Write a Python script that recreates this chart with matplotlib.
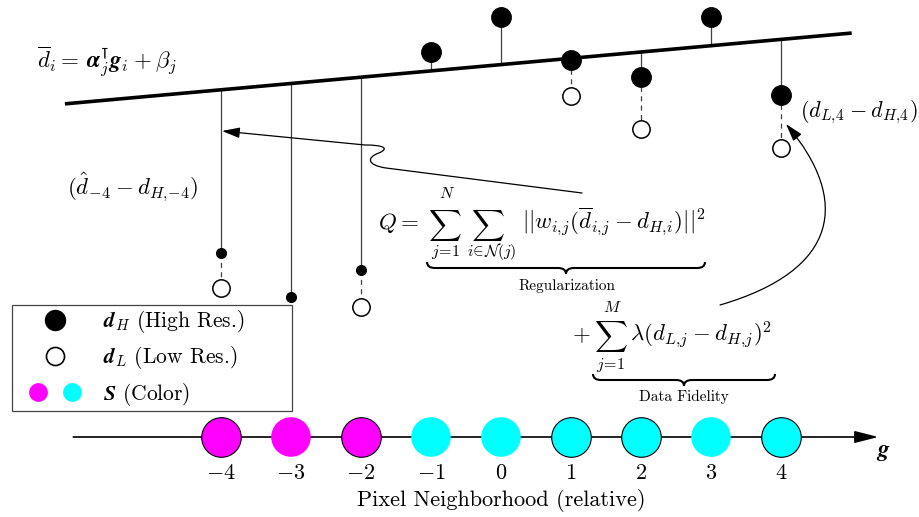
import numpy as np
import matplotlib
matplotlib.use("Agg")
import matplotlib.pyplot as plt
from matplotlib.path import Path
from matplotlib.patches import FancyArrowPatch, PathPatch
from matplotlib.lines import Line2D
from matplotlib.legend_handler import HandlerTuple

plt.rcParams['mathtext.fontset'] = 'cm'
plt.rcParams['font.family'] = 'serif'
plt.rcParams['font.serif'] = ['cmr10', 'DejaVu Serif']
plt.rcParams['axes.unicode_minus'] = False

# ---------------- data ----------------
g = [-4, -3, -2, -1, 0, 1, 2, 3, 4]
tick_labels = [r'$-4$', r'$-3$', r'$-2$', r'$-1$', r'$0$', r'$1$', r'$2$', r'$3$', r'$4$']
d_high = [184, 140, 167, 385, 420, 377, 360, 420, 342]
d_low = [149, np.nan, 130.5, np.nan, np.nan, 341.5, 308.5, np.nan, 289.5]
is_neighbor_estimate = [True, True, True, False, False, False, False, False, False]
seg_colors = ['#FF00FF', '#FF00FF', '#FF00FF', '#00FFFF', '#00FFFF', '#00FFFF', '#00FFFF', '#00FFFF', '#00FFFF']
seg_outlined = [True, False, True, False, False, True, True, False, True]
fit_alpha = 6.3
fit_beta = 372.4
fit_range = [-6.23, 5.01]
axis_range = [-6.11, 5.39]

# ---------------- figure ----------------
W, H = 919, 517
fig = plt.figure(figsize=(W / 100, H / 100), dpi=100)
ax = fig.add_axes([0, 0, 1, 1])
ax.set_xlim(-501 / 70, (W - 501) / 70)
ax.set_ylim(437 - H, 437)
ax.axis('off')

ov = fig.add_axes([0, 0, 1, 1], zorder=5)
ov.set_xlim(0, W)
ov.set_ylim(H, 0)
ov.axis('off')
ov.patch.set_alpha(0)

def fit(x):
    return fit_beta + fit_alpha * np.asarray(x, dtype=float)

# fitted line
xs = np.array(fit_range)
ax.plot(xs, fit(xs), color='black', lw=2.6, solid_capstyle='butt', zorder=3)

stem_c = '#404040'
for gi, dh, dl, small in zip(g, d_high, d_low, is_neighbor_estimate):
    ax.plot([gi, gi], [fit(gi), dh], color=stem_c, lw=0.9, zorder=2)
    if not np.isnan(dl):
        ax.plot([gi, gi], [dh, dl], color=stem_c, lw=0.9, ls=(0, (4, 3.5)), zorder=2)
        ax.plot(gi, dl, marker='o', ls='', mfc='white', mec='black', mew=1.1, ms=12.5, zorder=4)
    ax.plot(gi, dh, marker='o', ls='', mfc='black', mec='black',
            ms=7 if small else 14, zorder=4)

# g axis
ax.annotate('', xy=(axis_range[1], 0), xytext=(axis_range[0], 0),
            arrowprops=dict(arrowstyle='-|>,head_length=0.9,head_width=0.23',
                            color='black', lw=1.2, shrinkA=0, shrinkB=0,
                            mutation_scale=16), zorder=3)
for gi, c, outl in zip(g, seg_colors, seg_outlined):
    ax.scatter([gi], [0], s=28.5 ** 2, c=c, edgecolors='black' if outl else 'none',
               linewidths=0.8, zorder=4)
for gi, lab in zip(g, tick_labels):
    ax.text(gi, -36, lab, ha='center', va='center', fontsize=16)
ax.text(0, -64, r'Pixel Neighborhood (relative)', ha='center', va='center', fontsize=16)
ax.text(5.46, -15, r'$\boldsymbol{g}$', ha='center', va='center', fontsize=17)

# legend
handles = [
    Line2D([], [], marker='o', ls='', mfc='black', mec='black', ms=14.4),
    Line2D([], [], marker='o', ls='', mfc='white', mec='black', mew=1.2, ms=13),
    (Line2D([], [], marker='o', ls='', mfc='#FF00FF', mec='none', ms=13.5),
     Line2D([], [], marker='o', ls='', mfc='#00FFFF', mec='none', ms=13.5)),
]
labels = [r'$\boldsymbol{d}_H$ (High Res.)', r'$\boldsymbol{d}_L$ (Low Res.)',
          r'$\boldsymbol{S}$ (Color)']
leg = ax.legend(handles, labels, loc='upper left', mode='expand',
                bbox_to_anchor=(12 / W, 1 - 411 / H, 280 / W, 106 / H),
                bbox_transform=fig.transFigure,
                frameon=True, fancybox=False, edgecolor='#444444', framealpha=1,
                borderpad=0.15, handlelength=3.7, handletextpad=0.38, labelspacing=0.43,
                borderaxespad=0, fontsize=15.5,
                handler_map={tuple: HandlerTuple(ndivide=None, pad=-0.54)})
leg.get_frame().set_linewidth(0.9)

# equations / labels
ov.text(37, 62, r'$\overline{d}_i=\,\boldsymbol{\alpha}_j^{\intercal}\boldsymbol{g}_i\:{+}\:\beta_j$',
        ha='left', va='center', fontsize=16.5)
ov.text(133, 187, r'$(\hat{d}_{-4}\:{-}\:d_{H,\!{-4}})$', ha='center', va='center', fontsize=16.5)
ov.text(800, 112, r'$(d_{L,\!4}\:{-}\:d_{H,\!4})$', ha='left', va='center', fontsize=16)

FS_EQ = 16.5
FS_SUM = 16.5
FS_LIM = 11.5
# Regularization term
ov.text(378, 229, r'$Q=$', ha='left', va='baseline', fontsize=FS_EQ)
ov.text(444.5, 225.5, r'$\sum$', ha='center', va='center', fontsize=FS_SUM)
ov.text(447, 193, r'$N$', ha='center', va='center', fontsize=FS_LIM)
ov.text(445, 252, r'$j\!=\!1$', ha='center', va='center', fontsize=FS_LIM)
ov.text(487.5, 225.5, r'$\sum$', ha='center', va='center', fontsize=FS_SUM)
ov.text(492, 252, r'$i\!\in\!\mathcal{N}(j)$', ha='center', va='center', fontsize=FS_LIM)
ov.text(522, 229, r'$||w_{i,\!j}(\overline{d}_{i,\!j}\:{-}\:d_{H,\!i})||^2$',
        ha='left', va='baseline', fontsize=FS_EQ)
# Data fidelity term
ov.text(572, 341, r'$+$', ha='left', va='baseline', fontsize=FS_EQ)
ov.text(611, 336.5, r'$\sum$', ha='center', va='center', fontsize=FS_SUM)
ov.text(612, 308, r'$M$', ha='center', va='center', fontsize=FS_LIM)
ov.text(610, 365, r'$j\!=\!1$', ha='center', va='center', fontsize=FS_LIM)
ov.text(630, 341, r'$\lambda(d_{L,\!j}\:{-}\:d_{H,\!j})^2$', ha='left', va='baseline', fontsize=FS_EQ)

ov.text(567, 286, 'Regularization', ha='center', va='center', fontsize=11)
ov.text(684, 397, 'Data Fidelity', ha='center', va='center', fontsize=11)

def brace(x0, x1, y0, h):
    xc = (x0 + x1) / 2
    y1 = y0 + h / 2
    y2 = y0 + h
    r = 8
    verts = [(x0, y0), (x0, y1), (x0 + r, y1), (xc - r, y1), (xc, y1), (xc, y2),
             (xc, y1), (xc + r, y1), (x1 - r, y1), (x1, y1), (x1, y0)]
    codes = [Path.MOVETO, Path.CURVE3, Path.CURVE3, Path.LINETO, Path.CURVE3, Path.CURVE3,
             Path.CURVE3, Path.CURVE3, Path.LINETO, Path.CURVE3, Path.CURVE3]
    ov.add_patch(PathPatch(Path(verts, codes), fc='none', ec='black', lw=1.5))

brace(427, 705, 262, 12)
brace(593, 775, 374, 12)

# wiggly arrow to left stem
p1 = Path([(582, 193), (386, 168), (366, 165), (367, 157), (379, 153),
           (390, 148), (383, 145), (365, 145), (222, 131)],
          [Path.MOVETO, Path.LINETO, Path.CURVE4, Path.CURVE4, Path.CURVE4,
           Path.CURVE4, Path.CURVE4, Path.CURVE4, Path.LINETO])
ov.add_patch(FancyArrowPatch(path=p1, arrowstyle='-|>,head_length=0.77,head_width=0.23',
                             mutation_scale=14, color='black', lw=0.9))
# curved arrow to right
p2 = Path([(720, 305), (840, 270), (850, 200), (786, 124)],
          [Path.MOVETO, Path.CURVE4, Path.CURVE4, Path.CURVE4])
ov.add_patch(FancyArrowPatch(path=p2, arrowstyle='-|>,head_length=0.77,head_width=0.23',
                             mutation_scale=14, color='black', lw=0.9))

fig.savefig('out.png', dpi=100)
